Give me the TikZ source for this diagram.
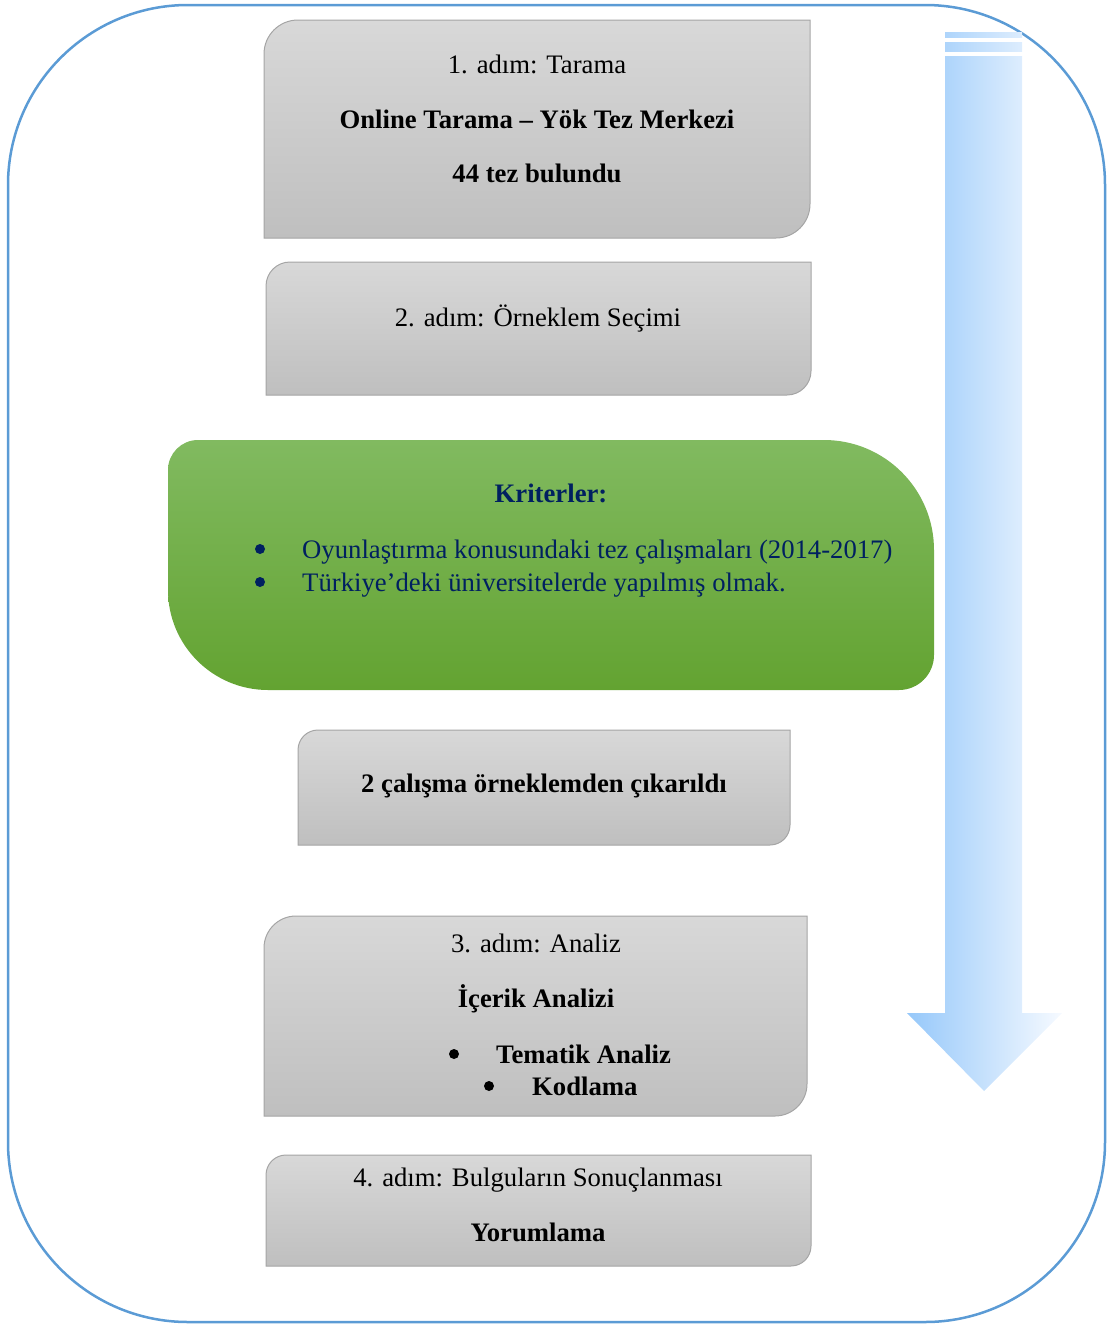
\documentclass[tikz,border=0pt]{standalone}
\usepackage{fontspec}
\setmainfont{Liberation Serif}

\definecolor{framblue}{RGB}{91,155,213}
\definecolor{graytop}{RGB}{216,216,216}
\definecolor{graybot}{RGB}{191,191,191}
\definecolor{grayline}{RGB}{165,165,165}
\definecolor{greentop}{RGB}{129,186,96}
\definecolor{greenbot}{RGB}{99,163,49}
\definecolor{critnavy}{RGB}{0,32,96}
\definecolor{arrowleft}{RGB}{150,200,250}
\definecolor{arrowright}{RGB}{246,250,255}

\tikzset{
    boxtext/.style={anchor=base, inner sep=0pt, font=\fontsize{26.7}{32}\selectfont},
    boxbold/.style={boxtext, font=\fontsize{26.7}{32}\selectfont\bfseries},
    critext/.style={boxtext, text=critnavy},
    stepbox/.style={rectangle, inner sep=0pt, outer sep=0pt},
    dot/.style={circle, fill=#1, inner sep=0pt, minimum size=10pt},
    graybox/.style={draw=grayline, line width=1pt, top color=graytop, bottom color=graybot},
    greenbox/.style={top color=greentop, bottom color=greenbot},
}

\begin{document}
\begin{tikzpicture}[x=1pt, y=-1pt]
            \useasboundingbox (0,0) rectangle (1109,1325);

            % frame and arrow
            \node[stepbox, draw=framblue, line width=2.5pt, rounded corners=180pt,
                  minimum width=1097pt, minimum height=1317pt] (frame) at (556.5,663.5) {};
            \path[left color=arrowleft, right color=arrowright]
                (945,56) -- (1022,56) -- (1022,1013) -- (1062,1013) -- (984,1091) -- (907,1013) -- (945,1013) -- cycle;
            \foreach \ya/\yb in {32/37, 42/51}
                \path[left color=arrowleft!75!arrowright, right color=arrowleft!26!arrowright] (945,\ya) rectangle (1022,\yb);

            % gray steps
            \foreach \name/\cx/\cy/\w/\h/\r in {tarama/537/129/546/218/34, ornek/538.5/328.5/545/133/24,
                                              cikar/544/787.5/492/115/20, analiz/535.5/1016/543/200/32,
                                              sonuc/538.5/1210.5/545/111/20}
                {
                    \node[stepbox, minimum width=\w pt, minimum height=\h pt] (\name) at (\cx,\cy) {};
                    \path[graybox] (\name.south west) -- ([yshift=-\r pt]\name.north west)
                        arc[start angle=180, end angle=90, radius=\r pt] -- (\name.north east)
                        -- ([yshift=\r pt]\name.south east) arc[start angle=0, end angle=-90, radius=\r pt] -- cycle;
                }

            % criteria
            \node[stepbox, minimum width=766pt, minimum height=250pt] (crit) at (551,565) {};
            \path[greenbox] ([yshift=100pt]crit.south west) -- ([yshift=-30pt]crit.north west)
                arc[start angle=180, end angle=90, radius=30pt] -- ([xshift=-110pt]crit.north east)
                arc[start angle=90, end angle=0, radius=110pt] -- ([yshift=35pt]crit.south east)
                arc[start angle=0, end angle=-90, radius=35pt] -- ([xshift=100pt]crit.south west)
                arc[start angle=270, end angle=180, radius=100pt] -- cycle;

            \node[boxtext] (taramaA) at (537,73) {1. adım: Tarama};
            \node[boxbold] (taramaB) at (537,128) {Online Tarama – Yök Tez Merkezi};
            \node[boxbold] (taramaC) at (537,182) {44 tez bulundu};

            \node[boxtext] (ornekA) at (538,326) {2. adım: Örneklem Seçimi};

            \node[critext, font=\fontsize{26.7}{32}\selectfont\bfseries] (critA) at (551,502) {Kriterler:};
            \node[dot=critnavy] (critdot1) at (260,549) {};
            \node[critext, anchor=base west] (critB) at (302,558) {Oyunlaştırma konusundaki tez çalışmaları (2014-2017)};
            \node[dot=critnavy] (critdot2) at (260,582) {};
            \node[critext, anchor=base west] (critC) at (302,591) {Türkiye’deki üniversitelerde yapılmış olmak.};

            \node[boxbold] (cikarA) at (544,792) {2 çalışma örneklemden çıkarıldı};

            \node[boxtext] (analizA) at (536,952) {3. adım: Analiz};
            \node[boxbold] (analizB) at (536,1007) {İçerik Analizi};
            \node[dot=black] (analizdot1) at (454,1054) {};
            \node[boxbold, anchor=base west] (analizC) at (496,1063) {Tematik Analiz};
            \node[dot=black] (analizdot2) at (489,1086) {};
            \node[boxbold, anchor=base west] (analizD) at (532,1095) {Kodlama};

            \node[boxtext] (sonucA) at (538,1186) {4. adım: Bulguların Sonuçlanması};
            \node[boxbold] (sonucB) at (538,1241) {Yorumlama};
        \end{tikzpicture}
\end{document}
